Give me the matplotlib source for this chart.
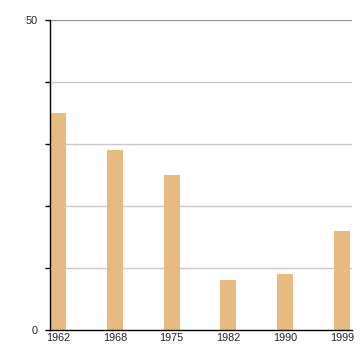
import numpy as np
import matplotlib
matplotlib.use('Agg')
import matplotlib.pyplot as plt

plt.rcParams['font.family'] = ['Liberation Sans', 'DejaVu Sans']

# Datos
años = ['1962', '1968', '1975', '1982', '1990', '1999']
valores = [35, 29, 25, 8, 9, 16]

fig = plt.figure(figsize=(3.6, 3.6), dpi=100)
ax = fig.add_axes([50 / 360, 30 / 360, 302 / 360, 310 / 360])

x = np.arange(len(años))
ax.bar(x, valores, width=0.28, color='#E6BA80', zorder=2)

# Rejilla horizontal
for y in [10, 20, 30, 40]:
    ax.axhline(y, color='#c8c8c8', linewidth=1, zorder=1)
ax.axhline(50, color='#999999', linewidth=1, zorder=1)

ax.set_xlim(-0.141, 5.176)
ax.set_ylim(0, 50)
ax.set_xticks(x)
ax.set_xticklabels(años)
ax.set_yticks([0, 10, 20, 30, 40, 50])
ax.set_yticklabels(['0', '', '', '', '', '50'])

ax.tick_params(axis='x', length=0, pad=2, labelsize=7.8, colors='black')
ax.tick_params(axis='y', length=3.6, width=1, pad=5.5, labelsize=7.8, colors='black')
ax.tick_params(labelcolor='#222222')

for lado in ['top', 'right']:
    ax.spines[lado].set_visible(False)
ax.spines['left'].set_linewidth(1)
ax.spines['bottom'].set_linewidth(1)

plt.savefig('out.png', dpi=100)
